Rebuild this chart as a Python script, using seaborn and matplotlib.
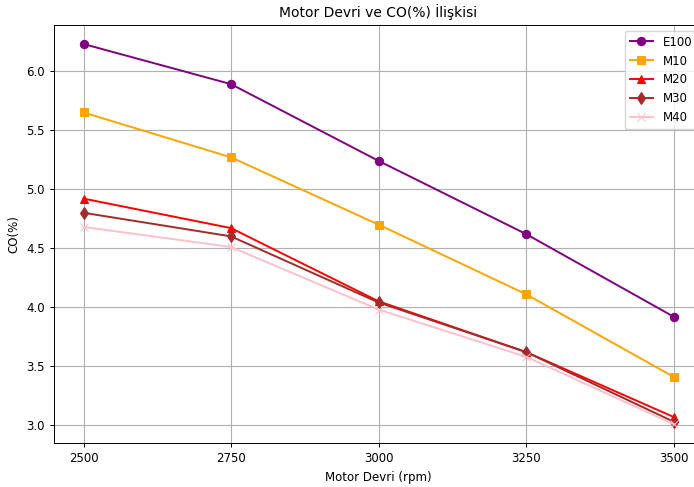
import numpy as np
import pandas as pd
import matplotlib
matplotlib.use("Agg")
import matplotlib.pyplot as plt
import seaborn as sns

# engine speed (rpm) and CO (%) for each fuel blend
rpm = [2500, 2750, 3000, 3250, 3500]
e100 = [6.23, 5.89, 5.24, 4.62, 3.92]
m10 = [5.65, 5.27, 4.70, 4.11, 3.41]
m20 = [4.92, 4.67, 4.05, 3.62, 3.07]
m30 = [4.80, 4.60, 4.04, 3.62, 3.03]
m40 = [4.68, 4.51, 3.98, 3.58, 3.01]

fuels = ['E100', 'M10', 'M20', 'M30', 'M40']
colors = ['purple', 'orange', 'red', 'brown', 'pink']
markers = ['o', 's', '^', 'd', 'x']

df = pd.DataFrame({'rpm': rpm, 'E100': e100, 'M10': m10,
                   'M20': m20, 'M30': m30, 'M40': m40})

fig = plt.figure(figsize=(6.94, 4.87), dpi=100)
# right part of the axes is cut off by the figure edge, like the reference
ax = fig.add_axes([54 / 694, 44 / 487, 649 / 694, 418 / 487])

for fuel, col, mk in zip(fuels, colors, markers):
    sns.lineplot(x='rpm', y=fuel, data=df, color=col, marker=mk,
                 markersize=6, markeredgecolor=col, linewidth=1.4,
                 label=fuel, ax=ax)

ax.set_title('Motor Devri ve CO(%) İlişkisi', fontsize=10)
ax.set_xlabel('Motor Devri (rpm)', fontsize=8.5)
ax.set_ylabel('CO(%)', fontsize=8.5)
ax.set_xticks(rpm)
ax.tick_params(labelsize=8.5, width=0.7, length=3)
ax.grid(True, color='#b0b0b0', linewidth=0.8)
for s in ax.spines.values():
    s.set_linewidth(0.7)
ax.legend(loc='upper right', fontsize=8.5)

fig.savefig('out.png', dpi=100)
